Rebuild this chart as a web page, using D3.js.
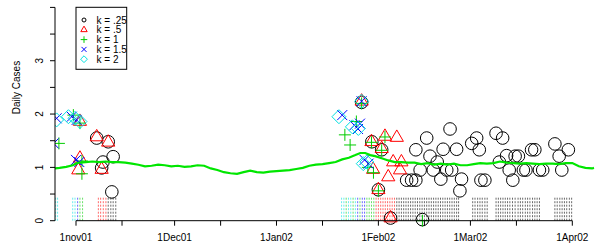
<!DOCTYPE html>
<html><head><meta charset="utf-8">
<script src="https://cdn.jsdelivr.net/npm/d3@7"></script>
<style>body{margin:0;background:#fff}svg{display:block}text{font-family:"Liberation Sans",Arial,Helvetica,sans-serif;fill:#000}</style>
</head><body><svg id="chart" width="600" height="250"></svg>
<script>
// ---- data (x values are days after 1 Nov 2001) ----
const seriesNames = ["k = .25", "k = .5", "k = 1", "k = 1.5", "k = 2"];
const seriesColors = ["#000000", "#ff0000", "#00cc00", "#0000ff", "#00e0e0"];
const seriesShapes = ["circle", "triangle", "plus", "cross", "diamond"];

const k025 = [[6.3,1.55],[9.8,1.48],[11.3,1.2],[8.2,1.1],[7.8,0.99],[10.9,0.54],
  [86.9,2.22],[90,1.48],[93,1.33],[92,0.58],[95.7,0.05],
  [100.6,0.76],[102.1,0.76],[103.4,0.76],[103.4,1.33],[104.7,0.95],[105.4,0.02],[106.7,1.55],
  [107.7,1.21],[108.7,0.95],[109.9,1.1],[111,0.78],[111.7,1.34],[112.8,0.95],[113.8,1.72],
  [114.3,0.95],[115.8,1.34],[116.8,0.56],[117.3,0.78],[120.4,1.45],[121.9,1.55],[122.7,1.33],
  [123.2,0.76],[124.4,0.76],[127.8,1.64],[128.8,1.1],[129.8,1.55],[131,1.22],[131.8,0.95],
  [132.9,0.76],[133.6,1.21],[134.6,1.21],[136.1,0.95],[136.9,0.95],[138.6,1.33],[139.6,1.33],
  [141,0.95],[142,0.95],[145.7,1.44],[147,1.21],[147.8,0.95],[149.8,1.33]];
const k05 = [[1.2,1.86],[1.2,1.17],[0.7,0.95],[6.3,1.57],[9.8,1.47],[7.8,0.96],
  [86.9,2.24],[89.9,1.48],[94,1.58],[97.6,1.56],[93,1.35],[96.5,1.1],[99,1.1],[98.6,0.95],
  [90.4,0.96],[95,0.82],[92,0.58],[95.7,0.05]];
const k1 = [[-5.2,1.45],[-0.8,1.98],[1.2,1.83],[1.8,1.12],[1.8,0.88],
  [81.8,1.61],[83.4,1.42],[85.3,1.86],[86.9,2.2],[89.9,1.47],[94,1.57],[93,1.32],[90.5,0.9],
  [88.8,1.0],[92,0.56],[105.4,0.0]];
const k15 = [[-6.8,1.45],[-5.9,1.92],[-1.3,1.95],[0.2,1.89],[0,1.14],[1,1.1],
  [81,1.98],[84.7,1.79],[86.4,1.82],[86.9,2.24],[87.8,1.14],[89,1.07],[85.8,1.72]];
const k2 = [[-5.9,1.89],[-2.3,1.95],[-0.3,1.92],[1.2,1.86],
  [80,1.95],[84.1,1.76],[85.9,1.73],[87.4,1.07],[88.5,1.1],[86.9,2.24]];

// rug marks (days), per series
const rug025 = [9.8,10.6,11.3,12.1,
  97.6,98.3,99.0,99.7,100.4,101.1,101.8,102.5,103.2,103.9,104.6,105.3,106.0,106.7,107.4,108.1,
  108.8,109.5,110.2,110.9,111.6,112.3,113.0,113.7,114.4,115.1,115.8,116.4,
  120.7,121.4,122.2,122.9,123.6,124.4,125.1,
  127.8,128.5,129.2,129.9,130.6,131.3,132.0,132.8,133.6,
  134.5,135.2,135.9,136.7,137.4,138.1,
  138.9,139.6,140.3,141.0,
  145.7,146.4,147.2,147.9,148.6,149.3,150.1,150.8];
const rug05 = [6.8,7.5,8.3,9.1,91.3,92.0,92.7,93.4,94.1,94.8,95.5,96.2,96.9];
const rug1 = [1.2,2.0,82.2,84.3,86.4,88.5,89.2,89.9,90.6];
const rug15 = [0.5,85.7,87.1,87.8];
const rug2 = [-6.2,-5.6,-1.0,-0.3,80.8,81.5,82.9,83.6,85.0];

// smoothed green line
const trendDays = [-6.4,-5,-3,-1,0,1,3,5,7,9,11,13,15,17,19,21,23,25,27,29,31,33,35,37,39,41,43,45,47,49,
  51,53,55,57,59,61,63,65,67,69,71,73,75,77,79,81,83,85,86.5,88,89.5,91,93,95,97,99,101,103,105,107,
  109,111,113,115,117,119,121,123,125,127,129,131,133,135,137,139,141,143,145,147,149,151,153,155,157,157.6];
const trendVals = [0.98,0.99,1.01,1.04,1.07,1.09,1.10,1.11,1.10,1.11,1.10,1.10,1.09,1.07,1.05,1.02,1.03,1.05,1.04,1.02,
  1.03,1.01,1.02,1.04,1.03,0.98,0.95,0.91,0.89,0.88,0.91,0.94,0.91,0.90,0.92,0.93,0.94,0.95,0.97,0.99,
  1.03,1.05,1.06,1.08,1.10,1.15,1.18,1.23,1.27,1.27,1.23,1.21,1.17,1.13,1.10,1.10,1.09,1.09,1.06,1.08,
  1.05,1.07,1.05,1.07,1.04,1.04,1.06,1.08,1.07,1.08,1.11,1.09,1.08,1.07,1.08,1.07,1.06,1.07,1.07,1.06,
  1.08,1.08,1.02,0.99,0.98,0.99];

const tickDays = [0,30,61,92,120,151];
const tickLabels = ["1nov01","1Dec01","1Jan02","1Feb02","1Mar02","1Apr02"];
const minorTickDays = [14,44,75,106,134];
const yTicks = [0,0.5,1,1.5,2,2.5,3,3.5,4];
const yLabels = [0,1,2,3];

// ---- drawing ----
const origin = Date.UTC(2001,10,1);
const toDate = d => new Date(origin + d*864e5);
const svg = d3.select("#chart");
const x = d3.scaleUtc().domain([toDate(-6.39), toDate(157.6)]).range([55, 594]);
const y = d3.scaleLinear().domain([0,4]).range([220.7, 7.4]);

svg.append("defs").append("clipPath").attr("id","clip")
  .append("rect").attr("x",55).attr("y",0).attr("width",545).attr("height",250);
const plot = svg.append("g").attr("clip-path","url(#clip)");

const allSeries = [k025,k05,k1,k15,k2];
const allRugs = [rug025,rug05,rug1,rug15,rug2];

function shapePath(shape, s) {
  switch (shape) {
    case "triangle": return `M0,${-1.15*s}L${s},${0.58*s}L${-s},${0.58*s}Z`;
    case "plus": return `M${-s},0H${s}M0,${-s}V${s}`;
    case "cross": return `M${-s},${-s}L${s},${s}M${-s},${s}L${s},${-s}`;
    case "diamond": return `M0,${-s}L${s},0L0,${s}L${-s},0Z`;
  }
}
function drawSymbol(g, shape, color, cx, cy, big) {
  if (shape === "circle") {
    g.append("circle").attr("cx",cx).attr("cy",cy).attr("r", big ? 6.3 : 2)
      .attr("fill","none").attr("stroke",color).attr("stroke-width",1);
  } else {
    const s = big ? {triangle:6.6, plus:6, cross:5, diamond:7}[shape]
                  : {triangle:3.2, plus:3.3, cross:2.5, diamond:3.4}[shape];
    g.append("path").attr("transform",`translate(${cx},${cy})`).attr("d", shapePath(shape,s))
      .attr("fill","none").attr("stroke",color).attr("stroke-width",1);
  }
}

// rugs
allRugs.forEach((r,i) => {
  plot.append("g").selectAll("line").data(r).join("line")
    .attr("x1",d=>x(toDate(d))).attr("x2",d=>x(toDate(d)))
    .attr("y1",y(0)).attr("y2",y(0.45))
    .attr("stroke",seriesColors[i]).attr("stroke-opacity",0.75)
    .attr("stroke-width",0.8).attr("stroke-dasharray","2,1.5");
});

// points
allSeries.forEach((s,i) => {
  const g = plot.append("g");
  s.forEach(p => drawSymbol(g, seriesShapes[i], seriesColors[i], x(toDate(p[0])), y(p[1]), true));
});

// green line
const line = d3.line().x(d=>x(toDate(d[0]))).y(d=>y(d[1]));
plot.append("path").datum(trendDays.map((d,i)=>[d,trendVals[i]]))
  .attr("d",line).attr("fill","none").attr("stroke","#00e600").attr("stroke-width",2.2);

// axes
const xAxis = svg.append("g");
xAxis.append("line").attr("x1",x(toDate(tickDays[0]))).attr("x2",x(toDate(tickDays[tickDays.length-1])))
  .attr("y1",y(0)).attr("y2",y(0)).attr("stroke","#000");
tickDays.concat(minorTickDays).forEach(d => {
  xAxis.append("line").attr("x1",x(toDate(d))).attr("x2",x(toDate(d)))
    .attr("y1",y(0)).attr("y2",y(0)+5).attr("stroke","#000");
});
tickDays.forEach((d,i) => {
  xAxis.append("text").attr("x",x(toDate(d))).attr("y",240.5).attr("text-anchor","middle")
    .attr("font-size",10).text(tickLabels[i]);
});
const yAxis = svg.append("g");
yAxis.append("line").attr("x1",55).attr("x2",55).attr("y1",y(0)).attr("y2",y(4)).attr("stroke","#000");
yTicks.forEach(v => {
  yAxis.append("line").attr("x1",50).attr("x2",55).attr("y1",y(v)).attr("y2",y(v)).attr("stroke","#000");
});
yLabels.forEach(v => {
  yAxis.append("text").attr("transform",`translate(39.5,${y(v)}) rotate(-90)`)
    .attr("text-anchor","middle").attr("dominant-baseline","central").attr("font-size",10).text(v);
});
svg.append("text").attr("transform","translate(16.5,87.5) rotate(-90)")
  .attr("text-anchor","middle").attr("dominant-baseline","central").attr("font-size",10).text("Daily Cases");

// legend
const leg = svg.append("g");
leg.append("rect").attr("x",76).attr("y",7.3).attr("width",50.7).attr("height",62)
  .attr("fill","#fff").attr("stroke","#000").attr("stroke-width",1);
seriesNames.forEach((n,i) => {
  const cy = 20 + i*9.8;
  drawSymbol(leg, seriesShapes[i], seriesColors[i], 84, cy, false);
  leg.append("text").attr("x",96.5).attr("y",cy+3.6).attr("font-size",10).text(n);
});
</script></body></html>
